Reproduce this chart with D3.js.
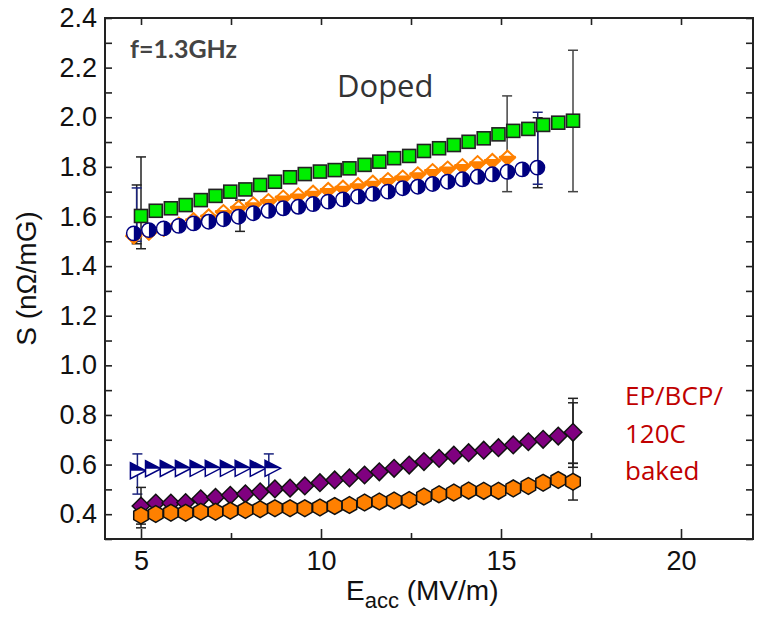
<!DOCTYPE html>
<html>
<head>
<meta charset="utf-8">
<script src="https://cdn.jsdelivr.net/npm/d3@7"></script>
<style>
  html, body { margin: 0; padding: 0; background: #fff; }
  svg { display: block; }
  .tick text { font-family: "Liberation Sans", Arial, sans-serif; font-size: 27px; fill: #111; }
</style>
</head>
<body>
<div id="chart"></div>
<script>
// x positions (MV/m) of the 30-point series
const eaccLong = [5.00, 5.41, 5.83, 6.24, 6.66, 7.07, 7.48, 7.90, 8.31, 8.72, 9.14, 9.55, 9.97, 10.38, 10.79,
                  11.21, 11.62, 12.03, 12.45, 12.86, 13.28, 13.69, 14.10, 14.52, 14.93, 15.34, 15.76, 16.17, 16.59, 17.00];
// x positions of the navy circle / orange diamond series
const eaccMid = [4.80, 5.22, 5.63, 6.05, 6.46, 6.88, 7.29, 7.71, 8.12, 8.54, 8.95, 9.37, 9.78, 10.20, 10.61,
                 11.03, 11.44, 11.86, 12.27, 12.69, 13.10, 13.52, 13.93, 14.35, 14.76, 15.18, 15.59, 16.01];
const eaccShort = [4.90, 5.32, 5.73, 6.15, 6.56, 6.98, 7.40, 7.81, 8.23, 8.64];

// S values (nOhm/mG)
const greenSquares = [1.602, 1.623, 1.633, 1.646, 1.666, 1.683, 1.700, 1.709, 1.727, 1.740, 1.758, 1.771, 1.781, 1.787, 1.794,
                      1.808, 1.821, 1.835, 1.844, 1.864, 1.875, 1.888, 1.901, 1.915, 1.931, 1.945, 1.953, 1.969, 1.978, 1.986];
const navyCircles = [1.532, 1.545, 1.552, 1.562, 1.572, 1.579, 1.589, 1.599, 1.613, 1.623, 1.633, 1.639, 1.650, 1.660,
                     1.669, 1.680, 1.691, 1.700, 1.714, 1.720, 1.731, 1.740, 1.750, 1.760, 1.770, 1.780, 1.790, 1.797];
const orangeDiamonds = [1.520, 1.535, 1.550, 1.567, 1.585, 1.600, 1.618, 1.635, 1.649, 1.662, 1.676, 1.685, 1.696,
                        1.707, 1.716, 1.726, 1.736, 1.747, 1.757, 1.770, 1.783, 1.793, 1.803, 1.815, 1.824, 1.837];
const navyTriangles = [0.575, 0.583, 0.584, 0.584, 0.585, 0.585, 0.585, 0.585, 0.585, 0.585];
const purpleDiamonds = [0.433, 0.445, 0.445, 0.447, 0.462, 0.468, 0.476, 0.482, 0.490, 0.502, 0.505, 0.514, 0.527, 0.538, 0.546,
                        0.558, 0.571, 0.585, 0.598, 0.612, 0.625, 0.638, 0.648, 0.658, 0.668, 0.679, 0.692, 0.702, 0.715, 0.730];
const orangeHexagons = [0.395, 0.401, 0.406, 0.406, 0.410, 0.410, 0.414, 0.417, 0.420, 0.424, 0.424, 0.424, 0.427, 0.433, 0.437,
                        0.447, 0.451, 0.455, 0.457, 0.471, 0.480, 0.487, 0.495, 0.494, 0.494, 0.504, 0.514, 0.527, 0.538, 0.531];

// error bars: x, low, high, colour
const errorBars = [
    {x: 5.00, lo: 1.47, hi: 1.84, c: "#222"},
    {x: 4.88, lo: 1.49, hi: 1.727, c: "#222"},
    {x: 4.88, lo: 1.50, hi: 1.715, c: "#1a237e"},
    {x: 7.75, lo: 1.54, hi: 1.666, c: "#222"},
    {x: 15.17, lo: 1.70, hi: 2.086, c: "#444"},
    {x: 16.02, lo: 1.716, hi: 1.998, c: "#222"},
    {x: 16.02, lo: 1.73, hi: 2.02, c: "#1a237e"},
    {x: 17.00, lo: 1.70, hi: 2.27, c: "#444"},
    {x: 4.90, lo: 0.481, hi: 0.643, c: "#1a237e"},
    {x: 8.55, lo: 0.497, hi: 0.643, c: "#1a237e"},
    {x: 5.00, lo: 0.36, hi: 0.508, c: "#222"},
    {x: 5.00, lo: 0.345, hi: 0.445, c: "#222"},
    {x: 17.00, lo: 0.589, hi: 0.867, c: "#222"},
    {x: 17.00, lo: 0.605, hi: 0.849, c: "#222"},
    {x: 17.00, lo: 0.457, hi: 0.605, c: "#222"}
];

const xTicks = [5, 10, 15, 20];
const xMinorTicks = [7.5, 12.5, 17.5];

const W = 757, H = 619;
const margin = {top: 18, right: 4, bottom: 80, left: 105};

const svg = d3.select("#chart").append("svg")
    .attr("width", W)
    .attr("height", H);

const x = d3.scaleLinear().domain([4, 22]).range([margin.left, W - margin.right]);
const y = d3.scaleLinear().domain([0.3, 2.4]).range([H - margin.bottom, margin.top]);

const yAll = d3.range(3, 25).map(d => d / 10);

// axes, ticks pointing inwards
svg.append("g")
    .attr("transform", `translate(${margin.left},0)`)
    .call(d3.axisLeft(y).tickValues(yAll).tickSize(-7).tickPadding(8)
        .tickFormat(d => (Math.round(d * 10) % 2 === 0 && d >= 0.4) ? d3.format(".1f")(d) : ""))
    .call(g => g.select(".domain").remove());

svg.append("g")
    .attr("transform", `translate(${W - margin.right},0)`)
    .call(d3.axisRight(y).tickValues(yAll).tickSize(-7).tickFormat(""))
    .call(g => g.select(".domain").remove());

svg.append("g")
    .attr("transform", `translate(0,${margin.top})`)
    .call(d3.axisTop(x).tickValues(xTicks.concat(xMinorTicks)).tickSize(-7).tickFormat(""))
    .call(g => g.select(".domain").remove());

svg.append("g")
    .attr("transform", `translate(0,${H - margin.bottom})`)
    .call(d3.axisBottom(x).tickValues(xTicks).tickSize(-10).tickPadding(12))
    .call(g => g.select(".domain").remove());

svg.append("g")
    .attr("transform", `translate(0,${H - margin.bottom})`)
    .call(d3.axisBottom(x).tickValues(xMinorTicks).tickSize(-6).tickFormat(""))
    .call(g => g.select(".domain").remove());

svg.selectAll(".tick line").attr("stroke", "#222").attr("stroke-width", 1.6);

svg.append("rect")
    .attr("x", x(4)).attr("y", y(2.4))
    .attr("width", x(22) - x(4)).attr("height", y(0.3) - y(2.4))
    .attr("fill", "none").attr("stroke", "#222").attr("stroke-width", 2);

// error bars
const eb = svg.append("g").attr("class", "errorbars");
errorBars.forEach(e => {
    const g = eb.append("g").attr("stroke", e.c).attr("stroke-width", 1.5);
    g.append("line").attr("x1", x(e.x)).attr("x2", x(e.x)).attr("y1", y(e.lo)).attr("y2", y(e.hi));
    [e.lo, e.hi].forEach(v => g.append("line")
        .attr("x1", x(e.x) - 5).attr("x2", x(e.x) + 5).attr("y1", y(v)).attr("y2", y(v)));
});

function pairs(xs, ys) { return ys.map((v, i) => [xs[i], v]); }

// orange half-filled diamonds
const od = svg.append("g");
pairs(eaccMid, orangeDiamonds).forEach(([a, b]) => {
    const g = od.append("g").attr("transform", `translate(${x(a)},${y(b)})`);
    g.append("path").attr("d", "M-7.5,0L0,-7L7.5,0L0,7Z").attr("fill", "#fff")
        .attr("stroke", "#ff8000").attr("stroke-width", 2);
    g.append("path").attr("d", "M-7.5,-1L7.5,-1L0,7Z").attr("fill", "#ff8000")
        .attr("stroke", "#ff8000").attr("stroke-width", 2).attr("stroke-linejoin", "round");
});

// navy half-filled circles
const nc = svg.append("g");
pairs(eaccMid, navyCircles).forEach(([a, b]) => {
    const g = nc.append("g").attr("transform", `translate(${x(a)},${y(b)})`);
    g.append("circle").attr("r", 7.2).attr("fill", "#fff").attr("stroke", "#000080").attr("stroke-width", 1.5);
    g.append("path").attr("d", "M0,-7.2A7.2,7.2 0 0 1 0,7.2Z").attr("fill", "#000080");
});

// green squares
svg.append("g").selectAll("rect")
    .data(pairs(eaccLong, greenSquares))
    .join("rect")
    .attr("x", d => x(d[0]) - 6.5).attr("y", d => y(d[1]) - 6.5)
    .attr("width", 13).attr("height", 13)
    .attr("fill", "#00ee00").attr("stroke", "#222").attr("stroke-width", 1.6);

// purple diamonds
svg.append("g").selectAll("path")
    .data(pairs(eaccLong, purpleDiamonds))
    .join("path")
    .attr("transform", d => `translate(${x(d[0])},${y(d[1])})`)
    .attr("d", "M-8.8,0L0,-8.8L8.8,0L0,8.8Z")
    .attr("fill", "#800080").attr("stroke", "#111").attr("stroke-width", 1.5);

// orange hexagons
const hex = d3.range(6).map(i => {
    const a = Math.PI / 2 + i * Math.PI / 3;
    return [8.4 * Math.cos(a), 8.4 * Math.sin(a)];
});
svg.append("g").selectAll("path")
    .data(pairs(eaccLong, orangeHexagons))
    .join("path")
    .attr("transform", d => `translate(${x(d[0])},${y(d[1])})`)
    .attr("d", "M" + hex.join("L") + "Z")
    .attr("fill", "#ff8000").attr("stroke", "#111").attr("stroke-width", 1.5);

// navy half-filled triangles
const nt = svg.append("g");
pairs(eaccShort, navyTriangles).forEach(([a, b]) => {
    const g = nt.append("g").attr("transform", `translate(${x(a)},${y(b)})`);
    g.append("path").attr("d", "M-7,-8L8.5,0L-7,8Z").attr("fill", "#fff")
        .attr("stroke", "#000080").attr("stroke-width", 1.5);
    g.append("path").attr("d", "M-7,-8L8.5,0L-7,0Z").attr("fill", "#000080");
});

// axis titles
svg.append("text")
    .attr("transform", `translate(36,${(y(0.3) + y(2.4)) / 2}) rotate(-90)`)
    .attr("text-anchor", "middle")
    .attr("font-family", "Liberation Sans, Arial, sans-serif")
    .attr("font-size", 28).attr("fill", "#111")
    .text("S (nΩ/mG)");

const xt = svg.append("text")
    .attr("x", 346).attr("y", 600)
    .attr("font-family", "Liberation Sans, Arial, sans-serif")
    .attr("font-size", 28).attr("fill", "#111");
xt.append("tspan").text("E");
xt.append("tspan").attr("font-size", 22).attr("dy", 8).text("acc");
xt.append("tspan").attr("dy", -8).text(" (MV/m)");

// annotations
svg.append("text")
    .attr("x", 130).attr("y", 58)
    .attr("font-family", "Lato, Open Sans, sans-serif").attr("font-weight", "bold")
    .attr("font-size", 25).attr("fill", "#444")
    .text("f=1.3GHz");

svg.append("text")
    .attr("x", 337).attr("y", 97)
    .attr("font-family", "Open Sans, sans-serif")
    .attr("font-size", 31).attr("fill", "#333")
    .text("Doped");

const ann = svg.append("text")
    .attr("font-family", "Open Sans, sans-serif")
    .attr("font-size", 26).attr("fill", "#c00000");
["EP/BCP/", "120C", "baked"].forEach((t, i) => {
    ann.append("tspan").attr("x", 625).attr("y", 405 + i * 37.5).text(t);
});
</script>
</body>
</html>
